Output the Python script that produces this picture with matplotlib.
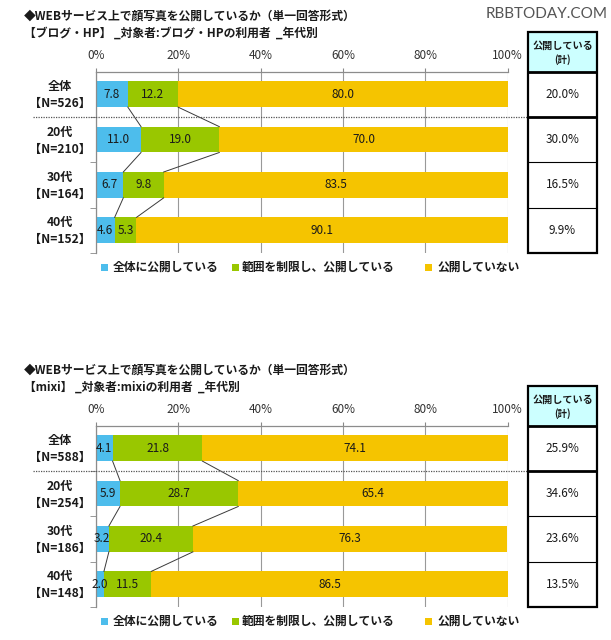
import matplotlib
matplotlib.use("Agg")
import matplotlib.pyplot as plt
from matplotlib.patches import Rectangle

plt.rcParams['font.family'] = ['Noto Sans CJK JP', 'DejaVu Sans']

# ---------------- data ----------------
categories_blog = ["全体\n【N=526】", "20代\n【N=210】", "30代\n【N=164】", "40代\n【N=152】"]
blog_public = [7.8, 11.0, 6.7, 4.6]
blog_limited = [12.2, 19.0, 9.8, 5.3]
blog_private = [80.0, 70.0, 83.5, 90.1]
blog_total = ["20.0%", "30.0%", "16.5%", "9.9%"]

categories_mixi = ["全体\n【N=588】", "20代\n【N=254】", "30代\n【N=186】", "40代\n【N=148】"]
mixi_public = [4.1, 5.9, 3.2, 2.0]
mixi_limited = [21.8, 28.7, 20.4, 11.5]
mixi_private = [74.1, 65.4, 76.3, 86.5]
mixi_total = ["25.9%", "34.6%", "23.6%", "13.5%"]

series_names = ["全体に公開している", "範囲を制限し、公開している", "公開していない"]
xtick_values = [0, 20, 40, 60, 80, 100]
xtick_labels = ["0%", "20%", "40%", "60%", "80%", "100%"]

title_main = "◆WEBサービス上で顔写真を公開しているか（単一回答形式）"
subtitle_blog = "【ブログ・HP】 _対象者:ブログ・HPの利用者  _年代別"
subtitle_mixi = "【mixi】 _対象者:mixiの利用者  _年代別"
table_header = "公開している"
table_header2 = "(計)"

colors = ["#4dbdec", "#99c700", "#f5c400"]
text_color = "#1a1a1a"
W, H = 611, 640


def fx(px):
    return px / W


def fy(px):
    return 1 - px / H


fig = plt.figure(figsize=(W / 100, H / 100), dpi=100)
fig.patch.set_facecolor("white")


def panel(off, cats, pub, lim, priv, totals, subtitle):
    n = len(cats)
    ax_top, ax_bot = 71.5 + off, 253 + off
    ax_l, ax_r = 95.7, 507.7
    ax = fig.add_axes([fx(ax_l), fy(ax_bot), fx(ax_r) - fx(ax_l), (ax_bot - ax_top) / H])
    ax.set_xlim(0, 100)
    ax.set_ylim(n - 0.5, -0.5)
    h = 0.57
    ys = list(range(n))
    segs = [pub, lim, priv]
    lefts = [[0] * n, list(pub), [p + l for p, l in zip(pub, lim)]]
    for k in range(3):
        ax.barh(ys, segs[k], left=lefts[k], height=h, color=colors[k], zorder=2)
        for i in ys:
            ax.text(lefts[k][i] + segs[k][i] / 2, i, f"{segs[k][i]:.1f}", ha="center",
                    va="center", fontsize=8.5, color=text_color, zorder=4)
    # connector lines
    for i in range(n - 1):
        for k in (1, 2):
            ax.plot([lefts[k][i], lefts[k][i + 1]], [i + h / 2, i + 1 - h / 2],
                    color="#3a3a3a", lw=0.7, zorder=3)
    # grid / axes styling
    ax.set_axisbelow(True)
    ax.xaxis.grid(True, color="#999999", lw=0.8)
    ax.xaxis.tick_top()
    ax.set_xticks(xtick_values)
    ax.set_xticklabels(xtick_labels, fontsize=8.5, color="#333333")
    ax.tick_params(axis="x", length=3, color="#888888", pad=3.5)
    ax.set_yticks(ys)
    ax.set_yticklabels([])
    ax.tick_params(axis="y", which="major", length=0)
    ax.set_yticks([i + 0.5 for i in ys], minor=True)
    ax.tick_params(axis="y", which="minor", length=4, color="#888888")
    for s in ("right", "bottom"):
        ax.spines[s].set_visible(False)
    for s in ("top", "left"):
        ax.spines[s].set_color("#8c8c8c")
        ax.spines[s].set_linewidth(0.9)
    # category labels
    tr = ax.get_yaxis_transform()
    for i, c in enumerate(cats):
        ax.text((60 - ax_l) / (ax_r - ax_l), i + 0.02, c, transform=tr, ha="center",
                va="center", fontsize=8.7, fontweight="bold", color=text_color,
                linespacing=1.4)
    # dotted separator
    ax.plot([(33 - ax_l) / (ax_r - ax_l), (527 - ax_l) / (ax_r - ax_l)], [0.5, 0.5],
            transform=tr, ls=(0, (1, 1)), color="#555555", lw=0.9, clip_on=False, zorder=5)

    # table
    t_l, t_r, t_top = 528, 597, 32 + off
    unit = (ax_bot - ax_top) / n
    head_top = -0.5 - (ax_top - t_top) / unit
    tax = fig.add_axes([fx(t_l), fy(ax_bot), fx(t_r) - fx(t_l), (ax_bot - t_top) / H])
    tax.set_xlim(0, 1)
    tax.set_ylim(n - 0.5, head_top)
    tax.axis("off")
    tax.add_patch(Rectangle((0, head_top), 1, -0.5 - head_top, facecolor="#ccffff",
                            edgecolor="none", zorder=1))
    yh = (head_top - 0.5) / 2
    tax.text(0.5, yh - 0.13, table_header, ha="center", va="center", fontsize=7.3,
             fontweight="bold", color=text_color)
    tax.text(0.5, yh + 0.17, table_header2, ha="center", va="center", fontsize=6.8,
             fontweight="bold", color=text_color)
    for i, t in enumerate(totals):
        tax.text(0.5, i, t, ha="center", va="center", fontsize=8.5, color=text_color)
    for yl, lw in [(-0.5, 2.0), (0.5, 2.0)] + [(i + 0.5, 0.8) for i in range(1, n - 1)]:
        tax.plot([0, 1], [yl, yl], color="black", lw=lw, solid_capstyle="butt",
                 clip_on=False, zorder=3)
    tax.add_patch(Rectangle((0, head_top), 1, n - 0.5 - head_top, facecolor="none",
                            edgecolor="black", lw=1.6, clip_on=False, zorder=4))

    # titles
    fig.text(fx(24), fy(16 + off), title_main, ha="left", va="center", fontsize=8.5,
             fontweight="bold", color=text_color)
    fig.text(fx(24), fy(33 + off), subtitle, ha="left", va="center", fontsize=8.5,
             fontweight="bold", color=text_color)

    # legend
    leg_y = 267 + off
    for k, (sx, tx_) in enumerate([(101, 113), (232, 242), (425, 437)]):
        fig.patches.append(Rectangle((fx(sx), fy(leg_y + 3.5)), fx(7), 7 / H,
                                     facecolor=colors[k], edgecolor="none",
                                     transform=fig.transFigure, figure=fig))
        fig.text(fx(tx_), fy(leg_y), series_names[k], ha="left", va="center",
                 fontsize=8.5, fontweight="bold", color=text_color)


panel(0, categories_blog, blog_public, blog_limited, blog_private, blog_total, subtitle_blog)
panel(354, categories_mixi, mixi_public, mixi_limited, mixi_private, mixi_total, subtitle_mixi)

fig.text(fx(486), fy(14), "RBBTODAY.COM", ha="left", va="center", fontsize=11,
         family=["Lato", "DejaVu Sans"], color="#555555")

fig.savefig("out.png", dpi=100, facecolor="white")
